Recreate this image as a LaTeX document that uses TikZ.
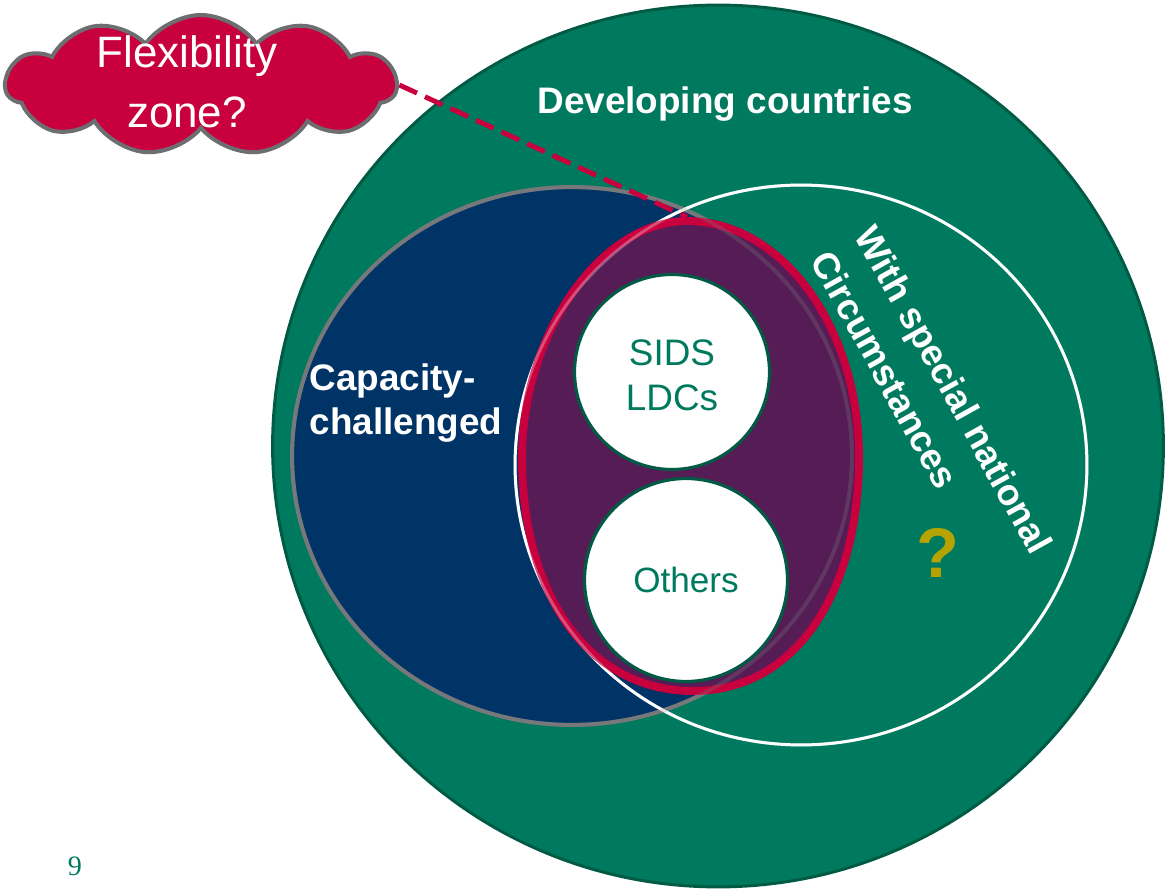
\documentclass[tikz,border=0pt]{standalone}
\usepackage{fontspec}
\setmainfont{Liberation Sans}
\newfontfamily\pagefont{Liberation Serif}
\usetikzlibrary{shapes.geometric, shapes.symbols, positioning}

\definecolor{devgreen}{RGB}{0,122,94}
\definecolor{devedge}{RGB}{0,90,68}
\definecolor{capblue}{RGB}{0,51,102}
\definecolor{capedge}{RGB}{118,120,122}
\definecolor{flexred}{RGB}{200,0,62}
\definecolor{flexfill}{RGB}{86,28,86}
\definecolor{qmark}{RGB}{180,163,0}
\definecolor{cloudedge}{RGB}{109,110,113}

\begin{document}
\begin{tikzpicture}[x=0.02cm, y=-0.02cm,
	blob/.style = {ellipse, inner sep=0pt},
	hole/.style = {circle, fill=white, draw=devedge, line width=1.8pt, inner sep=0pt},
	lbl/.style = {text=white, font=\fontsize{21}{25.5}\selectfont\bfseries, align=left},
	holetext/.style = {text=devgreen, font=\fontsize{21}{25.5}\selectfont, align=center}]
	\useasboundingbox (0,0) rectangle (1171,895);
	
	% the sets
	\node[blob, fill=devgreen, draw=devedge, line width=1.7pt, minimum width=17.82cm, minimum height=17.64cm] (developing) at (718,446) {};
	\node[blob, fill=capblue, draw=capedge, line width=2.3pt, minimum width=11.2cm, minimum height=10.76cm] (capacity) at (572,456) {};
	\node[blob, draw=white, line width=1.7pt, minimum width=11.44cm, minimum height=11.2cm] (special) at (801,465) {};
	% flexibility ring (a little fuller at the bottom)
	\draw[fill=flexfill, draw=flexred, line width=4.5pt]
		(522,457) .. controls (522,334) and (601,221) .. (687,221)
		.. controls (782,221) and (859,327) .. (859,457)
		.. controls (859,597) and (793,691) .. (693,691)
		.. controls (590,691) and (522,597) .. (522,457) -- cycle;
	\coordinate (flextop) at (687,217);
	\node[blob, draw=capedge, draw opacity=0.3, line width=2.3pt, minimum width=11.2cm, minimum height=10.76cm] (capacityrim) at (capacity) {};
	\node[blob, draw=white, draw opacity=0.3, line width=1.7pt, minimum width=11.44cm, minimum height=11.2cm] (specialrim) at (special) {};
	\node[hole, minimum size=3.9cm] (sids) at (672,372) {};
	\node[hole, minimum size=4.06cm] (others) at (686,580) {};
	
	% the cloud
	\node[cloud, cloud puffs=11, cloud puff arc=110, fill=flexred, draw=cloudedge, line width=2.3pt, inner sep=0pt, minimum width=7.82cm, minimum height=2.8cm] (flex) at (201,85) {};
	\node[text=white, font=\fontsize{25}{34}\selectfont, align=center] (flextext) at (187,82) {Flexibility\\zone?};
	\draw[flexred, line width=2.8pt, dash pattern=on 11pt off 5pt] (flex.east) -- (flextop);
	
	% labels
	\node[lbl] (devlabel) at (725,104) {Developing countries};
	\node[lbl] (caplabel) at (406,403) {Capacity-\\challenged};
	\node[lbl, rotate=-61, font=\fontsize{21}{29}\selectfont\bfseries] (speclabel) at (932,402) {With special national\\Circumstances};
	\node[holetext] (sidslabel) at (672,375) {SIDS\\LDCs};
	\node[holetext, font=\fontsize{20}{24}\selectfont] (otherslabel) at (others) {Others};
	\node[text=qmark, font=\fontsize{40}{44}\selectfont\bfseries] (query) at (938,553) {?};
	\node[text=devgreen, font=\pagefont\fontsize{16}{18}\selectfont] (pagenum) at (75,866) {9};
\end{tikzpicture}
\end{document}
